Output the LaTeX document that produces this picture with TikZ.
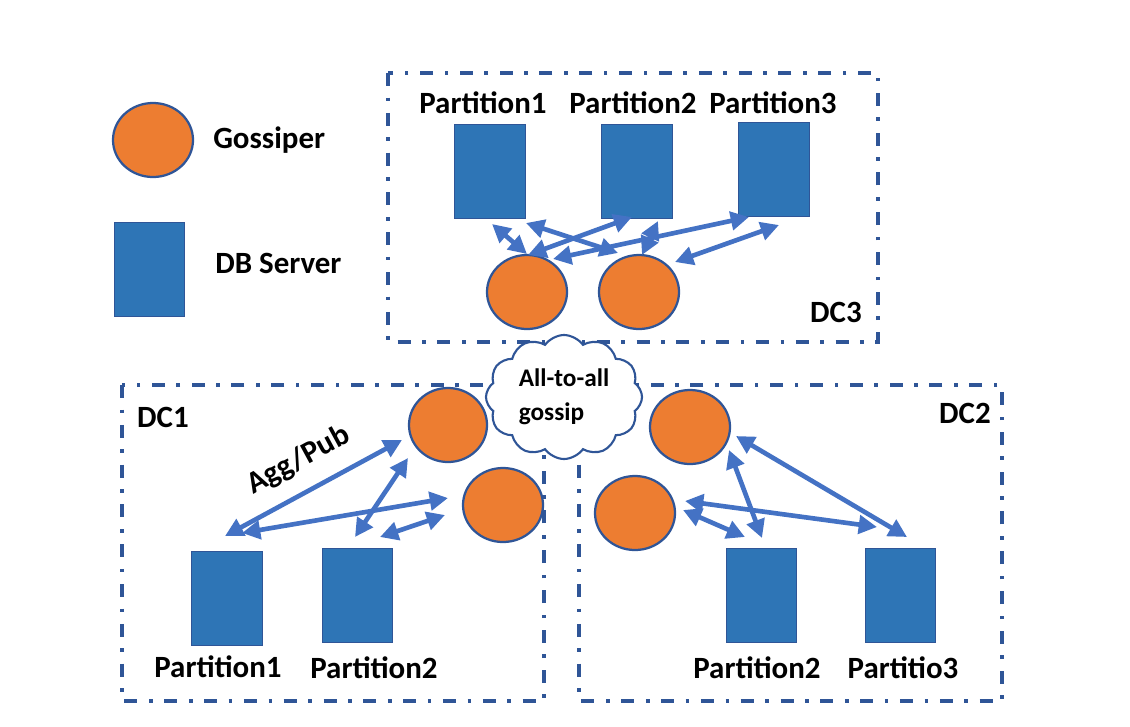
\documentclass[tikz,border=0pt]{standalone}
\usepackage{fontspec}
\setmainfont{Carlito}
\usetikzlibrary{shapes.geometric,shapes.symbols,arrows.meta}

\definecolor{gosorange}{HTML}{ED7D31}
\definecolor{dbblue}{HTML}{2E75B6}
\definecolor{edgeblue}{HTML}{2F5597}
\definecolor{linkblue}{HTML}{4472C4}

\tikzset{
  gossiper/.style={ellipse, fill=gosorange, draw=edgeblue, line width=1.6pt,
    minimum width=2cm, minimum height=1.85cm, inner sep=0pt},
  dbserver/.style={rectangle, fill=dbblue, draw=edgeblue, line width=0.6pt,
    minimum width=1.76cm, minimum height=2.33cm, inner sep=0pt},
  dcbox/.style={draw=edgeblue, line width=2.4pt,
    dash pattern=on 3.25mm off 2.9mm on 0.9mm off 2.9mm},
  link/.style={draw=linkblue, line width=3.3pt,
    {Triangle[length=13pt,width=13pt]}-{Triangle[length=13pt,width=13pt]}},
  lbl/.style={font=\fontsize{22}{26}\selectfont\bfseries, inner sep=0pt},
}

\begin{document}
\begin{tikzpicture}[x=0.025cm, y=-0.025cm]
\useasboundingbox (0,0) rectangle (1130,726);

% Data center boxes
\draw[dcbox] (388,73) rectangle (878,342);
\draw[dcbox] (122,385) rectangle (544,701);
\draw[dcbox] (579,385) rectangle (1002,701);
\node[lbl] (dcthree) at (836,312) {DC3};
\node[lbl] (dcone) at (163,417) {DC1};
\node[lbl] (dctwo) at (965,413) {DC2};

% Legend
\node[gossiper] (lgos) at (153,140) {};
\node[lbl, anchor=west] (lgostxt) at (213,140) {Gossiper};
\node[dbserver] (ldb) at (149.5,269.5) {};
\node[lbl, anchor=west] (ldbtxt) at (215,263) {DB Server};

% Cloud between the data centers
\node[cloud, cloud puffs=12, cloud puff arc=110, cloud ignores aspect,
  minimum width=3.9cm, minimum height=3.1cm, fill=white, draw=edgeblue,
  line width=1.5pt, align=left, font=\fontsize{18}{24}\selectfont\bfseries]
  (gossip) at (564,397) {All-to-all\\gossip};

% DC3 partitions
\foreach \n/\x/\y in {1/490/171.5, 2/637/171.5, 3/774/169.5} {
  \node[dbserver] (p3\n) at (\x,\y) {};
  \node[lbl] (p3\n txt) at (\x-10+\n*3,103) {Partition\n};
}
\node[gossiper] (g31) at (527,292) {};
\node[gossiper] (g32) at (639,292) {};

% DC1 partitions
\node[dbserver] (p11) at (227,598.5) {};
\node[dbserver] (p12) at (357.5,595.5) {};
\node[lbl] (p11txt) at (218,667) {Partition1};
\node[lbl] (p12txt) at (374,668) {Partition2};
\node[gossiper, minimum width=1.95cm] (g11) at (448,425) {};
\node[gossiper] (g12) at (503,505) {};

% DC2 partitions
\node[dbserver] (p22) at (761.5,595.5) {};
\node[dbserver] (p23) at (900.5,595.5) {};
\node[lbl] (p22txt) at (757,668) {Partition2};
\node[lbl] (p23txt) at (903,668) {Partitio3};
\node[gossiper] (g21) at (690,427) {};
\node[gossiper] (g22) at (635,513) {};

% DC3 links
\draw[link] ([shift={(2,52.5)}]p31.center) -- ([shift={(0,-38)}]g31.center);
\draw[link] ([shift={(36,51.5)}]p31.center) -- ([shift={(-21,-39)}]g32.center);
\draw[link] ([shift={(-5,45.5)}]p32.center) -- ([shift={(1,-37)}]g31.center);
\draw[link] ([shift={(21,49.5)}]p32.center) -- ([shift={(3,-37)}]g32.center);
\draw[link] ([shift={(-25,47.5)}]p33.center) -- ([shift={(26,-33)}]g31.center);
\draw[link] ([shift={(5,55.5)}]p33.center) -- ([shift={(36,-30)}]g32.center);

% DC1 links
\draw[link] ([shift={(-2,-62.5)}]p11.center) -- ([shift={(-46,15)}]g11.center)
  node[pos=0.5, sloped, above=11pt, lbl] (aggpub) {Agg/Pub};
\draw[link] ([shift={(15,-65.5)}]p11.center) -- ([shift={(-55,-7)}]g12.center);
\draw[link] ([shift={(-2.5,-58.5)}]p12.center) -- ([shift={(-40,33)}]g11.center);
\draw[link] ([shift={(22.5,-58.5)}]p12.center) -- ([shift={(-58,10)}]g12.center);

% DC2 links
\draw[link] ([shift={(46,9)}]g21.center) -- ([shift={(6.5,-58.5)}]p23.center);
\draw[link] ([shift={(39,23)}]g21.center) -- ([shift={(0.5,-57.5)}]p22.center);
\draw[link] ([shift={(50,-12)}]g22.center) -- ([shift={(-23.5,-68.5)}]p23.center);
\draw[link] ([shift={(48,-3)}]g22.center) -- ([shift={(-16.5,-58.5)}]p22.center);
\end{tikzpicture}
\end{document}
